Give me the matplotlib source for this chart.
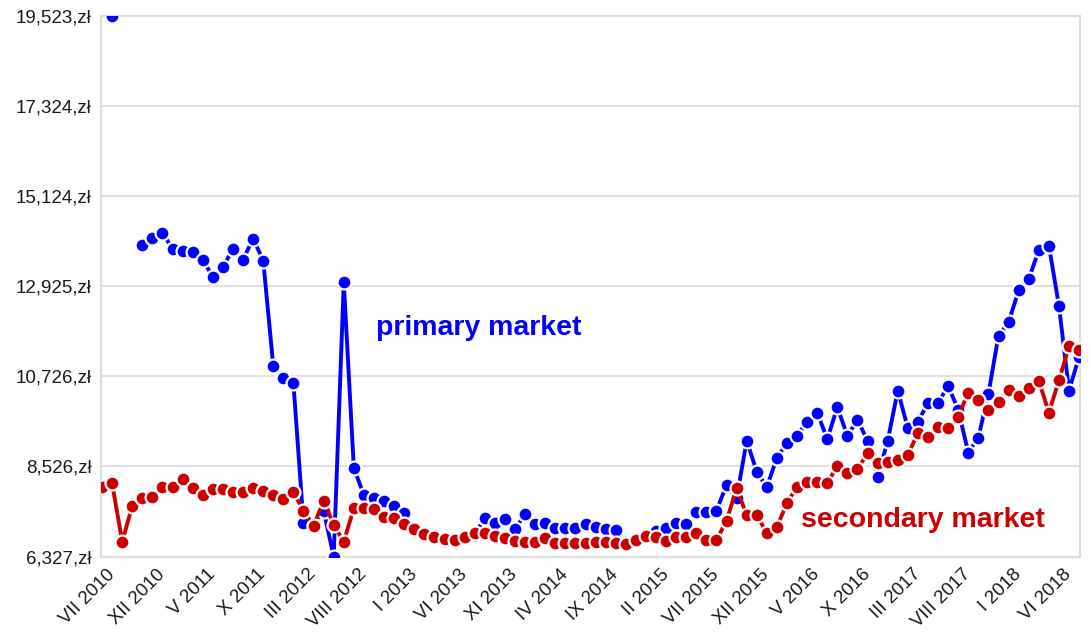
import numpy as np
import matplotlib
matplotlib.use("Agg")
import matplotlib.pyplot as plt
from matplotlib.ticker import FuncFormatter

# months from VI 2010 to VII 2018
roman = ["I", "II", "III", "IV", "V", "VI", "VII", "VIII", "IX", "X", "XI", "XII"]
months = []
for year in range(2010, 2019):
    for m in range(12):
        if (year == 2010 and m < 5) or (year == 2018 and m > 6):
            continue
        months.append(f"{roman[m]} {year}")

# average price per m2 [zł], primary market (None = no data)
primary = [
    None, 19523, None, None, 13940, 14104, 14226, 13842, 13776, 13762,
    13573, 13151, 13385, 13842, 13573, 14087, 13550, 10983, 10682, 10560,
    7138, 7090, 7450, 6327, 13019, 8483, 7830, 7749, 7691, 7561,
    7383, 6962, 6840, 6780, 6717, 6700, 6781, 6864, 7261, 7138,
    7244, 6992, 7358, 7114, 7153, 7016, 7016, 7016, 7121, 7041,
    6992, 6975, 6680, 6760, 6850, 6950, 7031, 7153, 7121, 7422,
    7407, 7446, 8074, 7749, 9150, 8400, 8018, 8742, 9094, 9272,
    9622, 9842, 9191, 9973, 9272, 9663, 9150, 8277, 9150, 10379,
    9460, 9622, 10071, 10071, 10494, 9907, 8864, 9231, 10300, 11716,
    12041, 12823, 13102, 13801, 13916, 12449, 10379, 11200,
]

# average price per m2 [zł], secondary market
secondary = [
    8033, 8116, 6689, 7561, 7749, 7789, 8033, 8033, 8214, 8009,
    7830, 7969, 7969, 7911, 7911, 7994, 7930, 7830, 7725, 7896,
    7446, 7072, 7691, 7097, 6689, 7505, 7505, 7481, 7300, 7261,
    7114, 6992, 6870, 6811, 6747, 6730, 6811, 6894, 6894, 6828,
    6786, 6706, 6689, 6689, 6772, 6650, 6650, 6650, 6650, 6689,
    6689, 6650, 6633, 6730, 6828, 6796, 6706, 6796, 6811, 6894,
    6730, 6730, 7200, 7994, 7341, 7341, 6894, 7055, 7627, 8033,
    8155, 8155, 8116, 8539, 8360, 8458, 8849, 8605, 8644, 8685,
    8808, 9338, 9255, 9499, 9460, 9744, 10330, 10152, 9907, 10110,
    10396, 10233, 10438, 10616, 9842, 10624, 11455, 11357,
]

y_ticks = [6327, 8526, 10726, 12925, 15124, 17324, 19523]

plt.rcParams["font.family"] = ["Liberation Sans", "DejaVu Sans"]

x = np.arange(len(months))
prim = np.array([np.nan if v is None else v for v in primary], dtype=float)
sec = np.array(secondary, dtype=float)

fig = plt.figure(figsize=(10.91, 6.34), dpi=100)
ax = fig.add_axes([0.0926, 0.1222, 0.8974, 0.8528])

blue = "#0000ff"
red = "#cc0000"
ax.plot(x, prim, color=blue, lw=2.8, marker="o", ms=10, mfc=blue,
        mec="white", mew=1.6, zorder=3)
ax.plot(x, sec, color=red, lw=2.8, marker="o", ms=10, mfc=red,
        mec="white", mew=1.6, zorder=4)

ax.set_xlim(-0.1, len(months) - 0.9)
ax.set_ylim(y_ticks[0], y_ticks[-1])
ax.set_yticks(y_ticks)
ax.yaxis.set_major_formatter(FuncFormatter(lambda v, p: f"{v:,.0f},zł"))
ax.grid(axis="y", color="#e0e0e0", lw=1.5)
ax.set_axisbelow(True)

tick_pos = list(range(1, len(months), 5))
ax.set_xticks(tick_pos)
ax.set_xticklabels([months[i] for i in tick_pos], rotation=45, ha="right",
                   va="center", rotation_mode="anchor")
ax.tick_params(axis="both", length=0, labelsize=13.5, colors="#1a1a1a")
ax.tick_params(axis="x", pad=11)
ax.tick_params(axis="y", pad=7)

for s in ax.spines.values():
    s.set_color("#dddddd")
    s.set_linewidth(1.5)

ax.text(37.4, 11912, "primary market", color=blue, fontsize=20.5,
        fontweight="bold", ha="center", va="center")
ax.text(81.5, 7219, "secondary market", color=red, fontsize=20.5,
        fontweight="bold", ha="center", va="center")

fig.savefig("out.png", dpi=100)
